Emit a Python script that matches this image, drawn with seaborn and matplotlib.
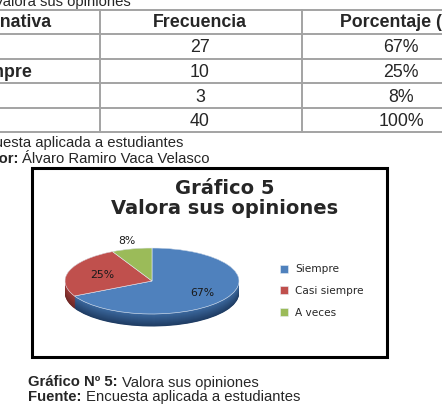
import matplotlib
matplotlib.use("Agg")
import matplotlib.pyplot as plt
import seaborn as sns
import numpy as np
from matplotlib.patches import Rectangle
from matplotlib.colors import to_rgb

# ---------------- data ----------------
table_caption = "Valora sus opiniones"
header = ["Alternativa", "Frecuencia", "Porcentaje (%)"]
alternativas = ["Siempre", "Casi siempre", "A veces"]
frecuencias = [27, 10, 3]
porcentajes = ["67%", "25%", "8%"]
total_frecuencia = 40
total_porcentaje = "100%"
fuente_label = "Fuente:"
fuente = "Encuesta aplicada a estudiantes"
autor_label = "Autor:"
autor = "Álvaro Ramiro Vaca Velasco"
chart_title = ["Gráfico 5", "Valora sus opiniones"]
caption_label = "Gráfico Nº 5:"
caption_text = "Valora sus opiniones"

top_colors = sns.color_palette(["#4f81bd", "#c0504d", "#9bbb59"])
side_top = ["#3d6aa0", "#9c3b39", "#7d9a45"]
side_bot = ["#1f3c63", "#6e2826", "#566c2e"]

sns.set_theme(style="white")
plt.rcParams["font.family"] = ["Liberation Sans", "DejaVu Sans"]

W, H = 442, 405
fig = plt.figure(figsize=(W / 100, H / 100), dpi=100)
fig.patch.set_facecolor("white")

lay = fig.add_axes([0, 0, 1, 1])
lay.set_xlim(0, W)
lay.set_ylim(H, 0)
lay.axis("off")

FS_TAB = 12.8
FS_CAP = 10.75
grid_c = "#a3a3a3"

# --- top caption (partially cut, as in the reference) ---
lay.text(-6, 6, table_caption, fontsize=FS_CAP, va="baseline", ha="left")

# --- table ---
row_lines = [10, 34, 59, 83, 108, 132]
for y in row_lines:
    lay.plot([0, W], [y, y], color=grid_c, lw=1.4, solid_capstyle="butt")
for x in [100, 302]:
    lay.plot([x, x], [row_lines[0], row_lines[-1]], color=grid_c, lw=1.4)

lay.text(52, 27.3, header[0], ha="right", va="baseline", fontsize=FS_TAB, weight="bold")
lay.text(200, 27.3, header[1], ha="center", va="baseline", fontsize=FS_TAB, weight="bold")
lay.text(340, 27.3, header[2], ha="left", va="baseline", fontsize=FS_TAB, weight="bold")

baselines = [52.5, 77, 101.5, 126]
col1 = alternativas + ["Total"]
col2 = [str(v) for v in frecuencias] + [str(total_frecuencia)]
col3 = porcentajes + [total_porcentaje]
for i, b in enumerate(baselines):
    if col1[i] == "Casi siempre":
        lay.text(-79, b, col1[i], ha="left", va="baseline", fontsize=FS_TAB, weight="bold")
    lay.text(200, b, col2[i], ha="center", va="baseline", fontsize=FS_TAB)
    lay.text(401, b, col3[i], ha="center", va="baseline", fontsize=FS_TAB)

# --- source / author lines ---
lay.text(183, 147.5, fuente, ha="right", va="baseline", fontsize=FS_CAP)
lay.text(19.5, 163, autor_label, ha="right", va="baseline", fontsize=FS_CAP, weight="bold")
lay.text(22, 163, autor, ha="left", va="baseline", fontsize=FS_CAP)

# --- chart frame ---
lay.add_patch(Rectangle((34, 170), 355, 189, facecolor="#cfcfcf", edgecolor="none", zorder=1))
lay.add_patch(Rectangle((32, 168), 355, 189, facecolor="white", edgecolor="black", lw=2.2, zorder=2))
lay.text(225, 188.5, chart_title[0], ha="center", va="center", fontsize=14,
         weight="bold", family="DejaVu Sans", zorder=3)
lay.text(225, 208.5, chart_title[1], ha="center", va="center", fontsize=14,
         weight="bold", family="DejaVu Sans", zorder=3)

# --- bottom captions ---
fig.canvas.draw()
r = fig.canvas.get_renderer()
for (lbl, txt, b) in [(caption_label, caption_text, 386.5), (fuente_label, fuente, 401)]:
    t = lay.text(28, b, lbl, ha="left", va="baseline", fontsize=FS_CAP, weight="bold")
    bb = t.get_window_extent(r)
    lay.text(bb.x1 + 4.2, b, txt, ha="left", va="baseline", fontsize=FS_CAP)

# --- 3D-like pie ---
pax = fig.add_axes([0, 0, 1, 1], zorder=5)
pax.patch.set_alpha(0)
rx, ry = 87.0, 33.0
s = ry / rx
cx, cy_px = 152.0, 281.0
cy = (H - cy_px) / s
depth = 12.5 / s
n_layers = 26
for k in range(n_layers):
    f = k / (n_layers - 1)
    cols = []
    for a, bcol in zip(side_bot, side_top):
        ca, cb = np.array(to_rgb(a)), np.array(to_rgb(bcol))
        cols.append(tuple(ca * (1 - f) + cb * f))
    pax.pie(frecuencias, colors=cols, startangle=90, counterclock=False,
            center=(cx, cy - depth * (1 - f)), radius=rx, frame=True,
            wedgeprops=dict(linewidth=0))
wedges, _ = pax.pie(frecuencias, colors=top_colors, startangle=90, counterclock=False,
                    center=(cx, cy), radius=rx, frame=True,
                    wedgeprops=dict(linewidth=0.4, edgecolor="#e8eef6"))
pax.set_aspect("auto")
pax.set_xlim(0, W)
pax.set_ylim(0, H / s)
pax.axis("off")

dist = [0.68, 0.6, 1.25]
for w, lab, d in zip(wedges, porcentajes, dist):
    mid = np.deg2rad((w.theta1 + w.theta2) / 2)
    pax.text(cx + d * rx * np.cos(mid), cy + d * rx * np.sin(mid), lab,
             ha="center", va="center", fontsize=7.8, family="DejaVu Sans", color="#1a1a1a")

pax.legend(wedges, alternativas, loc="center left",
           bbox_to_anchor=(280 / W, 1 - 291 / H), bbox_transform=fig.transFigure,
           frameon=False, prop={"family": "DejaVu Sans", "size": 7.6},
           handlelength=0.75, handleheight=0.75, handletextpad=0.7,
           labelspacing=1.1, borderpad=0, borderaxespad=0)

fig.savefig("out.png", dpi=100, facecolor="white")
